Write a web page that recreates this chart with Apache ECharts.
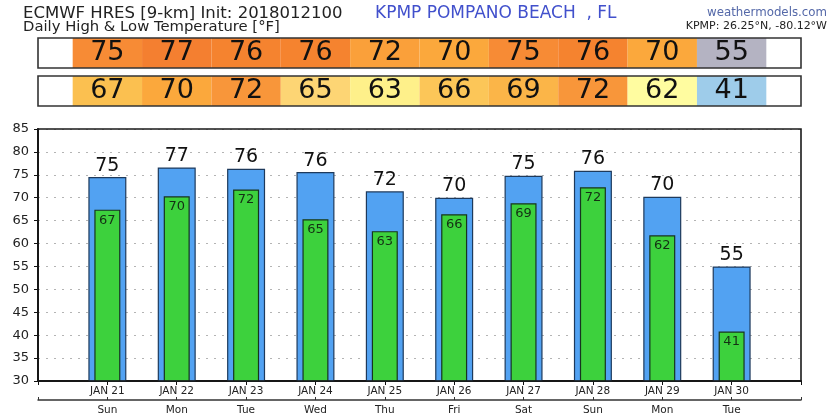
<!DOCTYPE html>
<html><head><meta charset="utf-8">
<script src="https://cdn.jsdelivr.net/npm/echarts@6/dist/echarts.min.js"></script>
<style>html,body{margin:0;padding:0;background:#fff}#c{width:839px;height:419px}</style>
</head><body><div id="c"></div>
<script>
// ---- data ----
const dates = ['JAN 21','JAN 22','JAN 23','JAN 24','JAN 25','JAN 26','JAN 27','JAN 28','JAN 29','JAN 30'];
const weekdays = ['Sun','Mon','Tue','Wed','Thu','Fri','Sat','Sun','Mon','Tue'];
const highLabels = [75,77,76,76,72,70,75,76,70,55];
const lowLabels = [67,70,72,65,63,66,69,72,62,41];
const highValues = [74.5,76.6,76.3,75.6,71.4,70.0,74.8,75.9,70.2,55.0];
const lowValues = [67.4,70.3,71.8,65.3,62.7,66.4,68.8,72.3,61.8,40.8];
const yMin = 30, yMax = 85, yStep = 5;

// ---- style: temperature colour scale ----
const tempScale = [[-999,'#9ECCEA'],[50,'#B4B3C2'],[61.5,'#FFFCA0'],[62.5,'#FEF08A'],[64.5,'#FDD574'],[66,'#FCC658'],[67,'#FBC050'],[68.5,'#FBB548'],[69.5,'#FBA83C'],[71,'#FAA03A'],[71.6,'#F8963A'],[74,'#F78B35'],[75.5,'#F5832F'],[76.4,'#F47F30']];
function tempColor(t){ let c = tempScale[0][1]; for (const s of tempScale) if (t >= s[0]) c = s[1]; return c; }

const FONT = 'DejaVu Sans';
const pad = a => [null, ...a, null];
const padCat = a => [' ', ...a, '  '];

const chart = echarts.init(document.getElementById('c'));
const hiddenX = g => ({gridIndex: g, type: 'category', data: padCat(dates), boundaryGap: false, show: false});
const hiddenY = g => ({gridIndex: g, type: 'value', min: 0, max: 1, show: false});
const rowSeries = (g, vals, labels) => ({
  type: 'bar', xAxisIndex: g + 1, yAxisIndex: g, data: pad(vals), barWidth: '100%', clip: true,
  itemStyle: {color: p => tempColor(p.value)},
  label: {show: true, position: 'inside', fontFamily: FONT, fontSize: 27, color: '#111',
          formatter: p => String(labels[p.dataIndex - 1])},
  silent: true
});

chart.setOption({
  animation: false,
  backgroundColor: '#fff',
  title: [
    {text: 'ECMWF HRES [9-km] Init: 2018012100', left: 23, top: 5, padding: 0,
     textStyle: {fontFamily: FONT, fontSize: 16.5, fontWeight: 'normal', color: '#222'}},
    {text: 'Daily High & Low Temperature [°F]', left: 23, top: 19.5, padding: 0,
     textStyle: {fontFamily: FONT, fontSize: 14.8, fontWeight: 'normal', color: '#222'}},
    {text: 'KPMP POMPANO BEACH  , FL', left: 375, top: 5, padding: 0,
     textStyle: {fontFamily: FONT, fontSize: 17, fontWeight: 'normal', color: '#4150CC'}},
    {text: 'weathermodels.com', right: 12, top: 7, padding: 0,
     textStyle: {fontFamily: FONT, fontSize: 11.8, fontWeight: 'normal', color: '#5468A8'}},
    {text: 'KPMP: 26.25°N, -80.12°W', right: 12, top: 21, padding: 0,
     textStyle: {fontFamily: FONT, fontSize: 11, fontWeight: 'normal', color: '#222'}}
  ],
  grid: [
    {left: 38, right: 38, top: 129, bottom: 38, show: true, z: 10, backgroundColor: 'transparent', borderColor: '#1a1a1a', borderWidth: 1.6},
    {left: 38, right: 38, top: 38, height: 30, show: true, z: 10, backgroundColor: 'transparent', borderColor: '#333', borderWidth: 1.6},
    {left: 38, right: 38, top: 76, height: 30, show: true, z: 10, backgroundColor: 'transparent', borderColor: '#333', borderWidth: 1.6}
  ],
  xAxis: [
    {gridIndex: 0, type: 'category', data: padCat(dates), boundaryGap: false, position: 'bottom',
     axisLine: {lineStyle: {color: '#111', width: 2}},
     axisTick: {show: true, interval: 0, length: 4, lineStyle: {color: '#111'}},
     axisLabel: {interval: 0, margin: 5, fontFamily: FONT, fontSize: 10.5, color: '#222'},
     splitLine: {show: false}},
    {gridIndex: 0, type: 'category', data: padCat(weekdays), boundaryGap: false, position: 'bottom', offset: 19,
     axisLine: {lineStyle: {color: '#333', width: 1.5}},
     axisTick: {show: true, interval: 0, inside: true, length: 3, lineStyle: {color: '#333'}},
     axisLabel: {interval: 0, margin: 5, fontFamily: FONT, fontSize: 10.5, color: '#222'},
     splitLine: {show: false}},
    hiddenX(1), hiddenX(2)
  ],
  yAxis: [
    {gridIndex: 0, type: 'value', min: yMin, max: yMax, interval: yStep,
     axisLine: {show: true, lineStyle: {color: '#111', width: 2}},
     axisTick: {show: true, length: 4, lineStyle: {color: '#111'}},
     axisLabel: {margin: 9, fontFamily: FONT, fontSize: 13, color: '#222'},
     splitLine: {show: true, lineStyle: {color: '#b4b4b4', width: 1, type: [2, 6]}}},
    hiddenY(1), hiddenY(2)
  ],
  series: [
    {type: 'bar', name: 'High', xAxisIndex: 0, yAxisIndex: 0, data: pad(highValues), barWidth: 38,
     itemStyle: {color: '#52A2F2', borderColor: '#1E3A5C', borderWidth: 1.2},
     label: {show: true, position: 'top', distance: 2, fontFamily: FONT, fontSize: 19, color: '#111',
             formatter: p => String(highLabels[p.dataIndex - 1])}},
    {type: 'bar', name: 'Low', xAxisIndex: 1, yAxisIndex: 0, data: pad(lowValues), barWidth: 26,
     itemStyle: {color: '#3DD13D', borderColor: '#17351F', borderWidth: 1.2},
     label: {show: true, position: 'insideTop', distance: 4, fontFamily: FONT, fontSize: 13, color: '#143014',
             formatter: p => String(lowLabels[p.dataIndex - 1])}},
    rowSeries(1, highValues, highLabels),
    rowSeries(2, lowValues, lowLabels)
  ]
});
</script>
</body></html>
